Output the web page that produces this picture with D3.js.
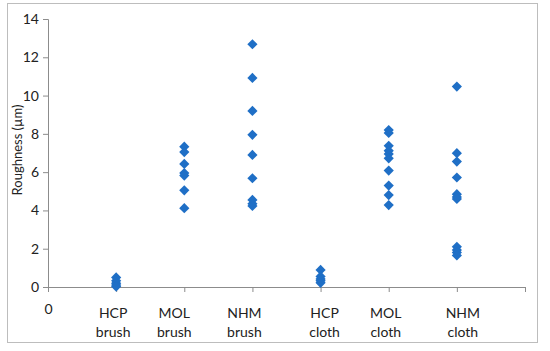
<!DOCTYPE html>
<html>
<head>
<meta charset="utf-8">
<script src="https://cdn.jsdelivr.net/npm/d3@7"></script>
<style>
  body { margin: 0; background: #fff; }
  text { font-family: Lato, "Open Sans", sans-serif; fill: #222; }
</style>
</head>
<body>
<svg width="550" height="351"></svg>
<script>
var svg = d3.select("svg");

// categories (x = 1..6)
var groups = ["HCP brush", "MOL brush", "NHM brush", "HCP cloth", "MOL cloth", "NHM cloth"];

// roughness values per group
var hcpBrush = [0.5, 0.32, 0.2, 0.1, 0.02];
var molBrush = [7.33, 7.05, 6.43, 5.95, 5.82, 5.05, 4.12];
var nhmBrush = [12.68, 10.92, 9.2, 7.95, 6.9, 5.68, 4.55, 4.35, 4.23];
var hcpCloth = [0.89, 0.55, 0.42, 0.33, 0.22];
var molCloth = [8.2, 8.05, 7.38, 7.12, 6.95, 6.72, 6.08, 5.3, 4.8, 4.28];
var nhmCloth = [10.47, 6.99, 6.55, 5.72, 4.85, 4.7, 4.6, 2.1, 1.93, 1.8, 1.65];

var yTicks = [0, 2, 4, 6, 8, 10, 12, 14];
var xTicks = [0, 1, 2, 3, 4, 5, 6, 7];
// small horizontal shifts of the category text boxes
var labelNudge = [-3, -10, -8, 4, -3, 6];

var series = [hcpBrush, molBrush, nhmBrush, hcpCloth, molCloth, nhmCloth];
var points = [];
series.forEach(function(vals, i) {
  vals.forEach(function(v) { points.push({ x: i + 1, y: v }); });
});

var x = d3.scaleLinear().domain([0, 7]).range([48, 525]);
var y = d3.scaleLinear().domain([0, 14]).range([287, 19]);

// outer frame
svg.append("rect")
    .attr("x", 7.5).attr("y", 3.5)
    .attr("width", 530).attr("height", 339)
    .attr("fill", "none")
    .attr("stroke", "#bdbdbd");

var axisColor = "#8c8c8c";

var yAxis = svg.append("g")
    .attr("transform", "translate(48,0)")
    .call(d3.axisLeft(y).tickValues(yTicks).tickSize(5).tickPadding(4));

var xAxis = svg.append("g")
    .attr("transform", "translate(0,287)")
    .call(d3.axisBottom(x).tickValues(xTicks).tickSize(5).tickPadding(12)
      .tickFormat(function(d) { return d === 0 ? "0" : ""; }));

[yAxis, xAxis].forEach(function(g) {
  g.select(".domain").attr("stroke", axisColor);
  g.selectAll(".tick line").attr("stroke", axisColor);
  g.selectAll("text")
      .style("font-family", "Lato, 'Open Sans', sans-serif")
      .style("font-size", "14px")
      .attr("fill", "#222");
});

// category labels, two lines each
var lab = svg.append("g").selectAll("text")
    .data(groups)
    .enter().append("text")
      .attr("text-anchor", "middle")
      .style("font-size", "14px")
      .attr("transform", function(d, i) { return "translate(" + (x(i + 1) + labelNudge[i]) + ",318)"; });

lab.append("tspan").attr("x", 0).attr("y", 0).text(function(d) { return d.split(" ")[0]; });
lab.append("tspan").attr("x", 0).attr("y", 19).text(function(d) { return d.split(" ")[1]; });

// y title
svg.append("text")
    .attr("transform", "translate(22,150) rotate(-90)")
    .attr("text-anchor", "middle")
    .style("font-size", "13px")
    .text("Roughness (\u00b5m)");

// diamonds
var diamond = d3.symbol().type(d3.symbolSquare).size(52);

svg.append("g")
    .selectAll("path")
    .data(points)
    .enter().append("path")
      .attr("d", diamond)
      .attr("fill", "#1f6fc6")
      .attr("transform", function(d) { return "translate(" + x(d.x) + "," + y(d.y) + ") rotate(45)"; });
</script>
</body>
</html>
